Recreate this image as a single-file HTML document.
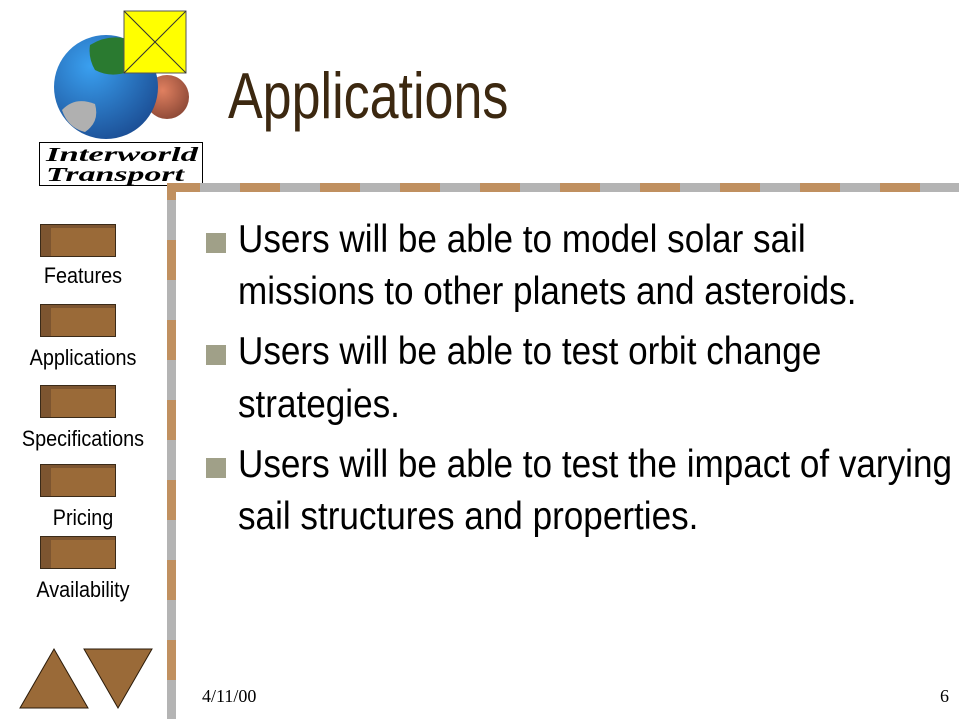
<!DOCTYPE html>
<html><head><meta charset="utf-8"><style>
body{margin:0;width:959px;height:719px;overflow:hidden;background:#fff;position:relative;font-family:"Liberation Sans",sans-serif}
.a{position:absolute}
.t{position:absolute;line-height:1;white-space:nowrap;transform-origin:0 0}
.btn{position:absolute;left:40px;width:76px;height:33px;background:#9a6a38;border:1px solid #3a2a18;box-sizing:border-box;box-shadow:inset 10px 0 0 #7d5530, inset 0 3px 0 #7d5530}
.lab{position:absolute;line-height:1;white-space:nowrap;font-size:22px;transform:translateX(-50%) scaleX(0.9);left:83px;color:#000}
</style></head><body>
<svg class="a" style="left:0;top:0" width="210" height="190">
 <defs><radialGradient id="g" cx="0.35" cy="0.3" r="0.8"><stop offset="0" stop-color="#3aa0f0"/><stop offset="1" stop-color="#1a4a90"/></radialGradient>
 <radialGradient id="m" cx="0.4" cy="0.35" r="0.8"><stop offset="0" stop-color="#e08060"/><stop offset="1" stop-color="#804030"/></radialGradient></defs>
 <circle cx="167" cy="97" r="22" fill="url(#m)"/>
 <circle cx="106" cy="87" r="52" fill="url(#g)"/>
 <path d="M90 45 Q110 33 130 40 L128 72 Q110 78 95 70 Q88 58 90 45Z" fill="#2a7a30"/>
 <path d="M62 110 Q75 96 95 104 Q100 122 85 132 Q68 128 62 110Z" fill="#b0b0b0"/>
 <rect x="124" y="11" width="62" height="62" fill="#ffff00" stroke="#555"/>
 <line x1="124" y1="11" x2="186" y2="73" stroke="#333"/><line x1="186" y1="11" x2="124" y2="73" stroke="#333"/>
 <rect x="39.5" y="142.5" width="163" height="43" fill="#fff" stroke="#000"/>
 <text x="46" y="161" font-family="Liberation Serif,serif" font-weight="bold" font-style="italic" font-size="20" textLength="152" lengthAdjust="spacingAndGlyphs">Interworld</text>
 <text x="46" y="181" font-family="Liberation Serif,serif" font-weight="bold" font-style="italic" font-size="20" textLength="138" lengthAdjust="spacingAndGlyphs">Transport</text>
</svg>
<div class="t" style="left:228px;top:63px;font-size:65px;color:#3c2810;transform:scaleX(0.8)">Applications</div>
<svg class="a" style="left:0;top:0" width="959" height="719">
 <rect x="167" y="183" width="792" height="9" fill="#b4b4b4"/>
 <rect x="167" y="183" width="9" height="536" fill="#b4b4b4"/>
 <rect x="167" y="183" width="33" height="9" fill="#c09060"/>
 <rect x="167" y="183" width="9" height="17" fill="#c09060"/>
 <g fill="#c09060">
 <rect x="240" y="183" width="40" height="9"/><rect x="320" y="183" width="40" height="9"/><rect x="400" y="183" width="40" height="9"/><rect x="480" y="183" width="40" height="9"/><rect x="560" y="183" width="40" height="9"/><rect x="640" y="183" width="40" height="9"/><rect x="720" y="183" width="40" height="9"/><rect x="800" y="183" width="40" height="9"/><rect x="880" y="183" width="40" height="9"/>
 <rect x="167" y="240" width="9" height="40"/><rect x="167" y="320" width="9" height="40"/><rect x="167" y="400" width="9" height="40"/><rect x="167" y="480" width="9" height="40"/><rect x="167" y="560" width="9" height="40"/><rect x="167" y="640" width="9" height="40"/>
 </g>
</svg>
<div class="btn" style="top:224px"></div>
<div class="lab" style="top:265px">Features</div>
<div class="btn" style="top:304px"></div>
<div class="lab" style="top:347px">Applications</div>
<div class="btn" style="top:385px"></div>
<div class="lab" style="top:428px">Specifications</div>
<div class="btn" style="top:464px"></div>
<div class="lab" style="top:507px">Pricing</div>
<div class="btn" style="top:536px"></div>
<div class="lab" style="top:579px">Availability</div>
<svg class="a" style="left:0;top:640px" width="160" height="75">
 <polygon points="54,9 88,68 20,68" fill="#9a6a38" stroke="#2a1a08"/>
 <polygon points="84,9 152,9 118,68" fill="#9a6a38" stroke="#2a1a08"/>
</svg>
<div>
 <div class="a" style="left:206px;top:233px;width:20px;height:20px;background:#a0a088"></div>
 <div class="a" style="left:206px;top:345px;width:20px;height:20px;background:#a0a088"></div>
 <div class="a" style="left:206px;top:458px;width:20px;height:20px;background:#a0a088"></div>
 <div class="t" style="left:238px;top:220px;font-size:39px;transform:scaleX(0.9)">Users will be able to model solar sail</div>
 <div class="t" style="left:238px;top:272px;font-size:39px;transform:scaleX(0.9)">missions to other planets and asteroids.</div>
 <div class="t" style="left:238px;top:332px;font-size:39px;transform:scaleX(0.9)">Users will be able to test orbit change</div>
 <div class="t" style="left:238px;top:385px;font-size:39px;transform:scaleX(0.9)">strategies.</div>
 <div class="t" style="left:238px;top:445px;font-size:39px;transform:scaleX(0.9)">Users will be able to test the impact of varying</div>
 <div class="t" style="left:238px;top:497px;font-size:39px;transform:scaleX(0.9)">sail structures and properties.</div>
</div>
<div class="t" style="left:202px;top:687px;font-size:18px;font-family:'Liberation Serif',serif">4/11/00</div>
<div class="t" style="left:940px;top:687px;font-size:18px;font-family:'Liberation Serif',serif">6</div>
</body></html>
